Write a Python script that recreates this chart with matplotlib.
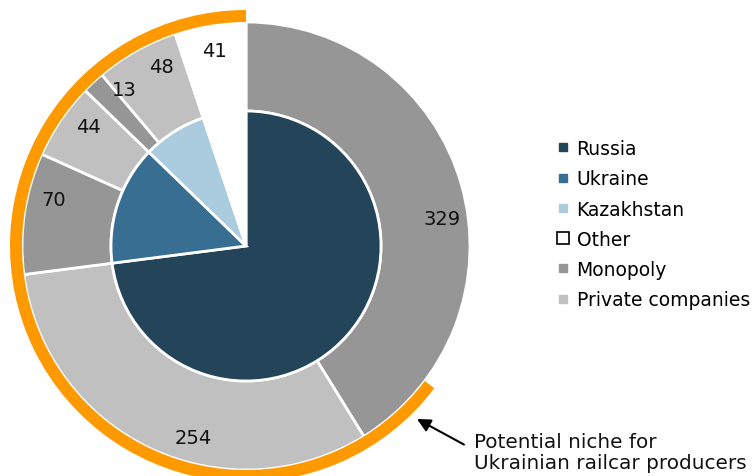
import matplotlib.pyplot as plt
from matplotlib.lines import Line2D
import numpy as np

# Outer ring: railcar fleet split by owner type, clockwise from 12 o'clock
outer_values = [329, 254, 70, 44, 13, 48, 41]
outer_groups = ["Monopoly", "Private companies", "Monopoly", "Private companies",
                "Monopoly", "Private companies", "Other"]

# Inner pie: the same fleet by producing country
inner_labels = ["Russia", "Ukraine", "Kazakhstan", "Other"]
inner_values = [583, 114, 61, 41]

# Highlighted arc: hidden lead-in, then the potential niche span
niche_arc = [282, 517]

legend_labels = ["Russia", "Ukraine", "Kazakhstan", "Other", "Monopoly", "Private companies"]

palette = {
    "Russia": "#244559",
    "Ukraine": "#386E91",
    "Kazakhstan": "#ABCBDE",
    "Other": "#FFFFFF",
    "Monopoly": "#969696",
    "Private companies": "#C0C0C0",
}
ORANGE = "#FF9900"

plt.rcParams["font.family"] = ["DejaVu Sans"]

W, H = 754, 477
fig = plt.figure(figsize=(W / 100, H / 100), dpi=100)
ax = fig.add_axes([0, 0, 1, 1])

cx, cy = 246, H - 247
R_OUT, R_IN = 224, 135

# outer ring
ax.pie(outer_values, radius=R_OUT, center=(cx, cy), startangle=90, counterclock=False,
       colors=[palette[g] for g in outer_groups],
       wedgeprops=dict(width=R_OUT - R_IN, edgecolor="white", linewidth=2))

# orange niche arc just outside the ring
ax.pie(niche_arc, radius=R_OUT + 12, center=(cx, cy), startangle=90, counterclock=False,
       colors=["none", ORANGE], wedgeprops=dict(width=12, linewidth=0))

# inner pie
ax.pie(inner_values, radius=R_IN, center=(cx, cy), startangle=90, counterclock=False,
       colors=[palette[c] for c in inner_labels],
       wedgeprops=dict(edgecolor="white", linewidth=2))

# value labels on the outer ring
total = sum(outer_values)
cum = np.cumsum([0] + outer_values[:-1])
label_nudge = [8, -10, 5, 3, 5, 4, 0]   # degrees, clockwise
for v, c0, nd in zip(outer_values, cum, label_nudge):
    frac = (c0 + v / 2) / total
    theta = np.deg2rad(90 - frac * 360 - nd)
    r = 0.885 * R_OUT
    ax.text(cx + r * np.cos(theta), cy + r * np.sin(theta), f"{v}",
            ha="center", va="center", fontsize=14, color="#111111")

# legend
handles = []
for lab in legend_labels:
    if lab == "Other":
        handles.append(Line2D([], [], marker="s", linestyle="none", markersize=9,
                              markerfacecolor="white", markeredgecolor="black",
                              markeredgewidth=1.2))
    else:
        handles.append(Line2D([], [], marker="s", linestyle="none", markersize=6,
                              markerfacecolor=palette[lab], markeredgecolor=palette[lab]))
ax.legend(handles, legend_labels, loc="upper left",
          bbox_to_anchor=(556 / W, 1 - 140 / H), bbox_transform=fig.transFigure,
          frameon=False, fontsize=13.5, handlelength=0.75, handletextpad=0.35,
          labelspacing=0.6, borderpad=0, borderaxespad=0)

# annotation
ax.annotate("Potential niche for\nUkrainian railcar producers",
            xy=(417, H - 420), xytext=(474, H - 453),
            ha="left", va="center", fontsize=14.4, color="#111111", linespacing=1.1,
            arrowprops=dict(arrowstyle="-|>", color="black", lw=1.5,
                            mutation_scale=20, relpos=(0, 0.55), shrinkA=6, shrinkB=0))

ax.set_xlim(0, W)
ax.set_ylim(0, H)
ax.set_aspect("equal")
ax.set_axis_off()

fig.savefig("out.png", dpi=100)
